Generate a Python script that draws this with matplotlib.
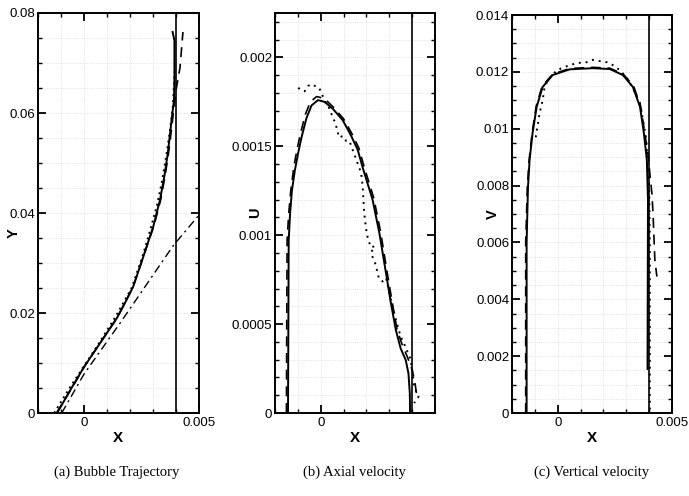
import matplotlib.pyplot as plt
from matplotlib.ticker import MultipleLocator, FixedLocator, FixedFormatter

plt.rcParams['font.family'] = ['Liberation Sans', 'DejaVu Sans']

# (a) bubble trajectory
traj_sim_x = [-0.00117, -0.00052, 0.0, 0.0007, 0.00143, 0.0017, 0.00213, 0.00258, 0.00301,
              0.0033, 0.00349, 0.00364, 0.00374, 0.00384, 0.00391, 0.00393, 0.00393, 0.00385]
traj_sim_y = [0.0, 0.0052, 0.0092, 0.014, 0.019, 0.0213, 0.0252, 0.0313, 0.0373,
              0.0426, 0.0473, 0.0519, 0.0559, 0.0599, 0.0626, 0.0672, 0.0745, 0.0762]
traj_exp_x = [-0.0013, -0.0006, 0.0, 0.0007, 0.0014, 0.00207, 0.00254, 0.00284,
              0.00316, 0.0034, 0.00359, 0.00374, 0.00386, 0.00395]
traj_exp_y = [0.0, 0.0052, 0.0094, 0.0143, 0.0195, 0.025, 0.0313, 0.036,
              0.0413, 0.0466, 0.0519, 0.0566, 0.0613, 0.069]
traj_dash_x = [-0.0012, -0.0005, 0.0, 0.0007, 0.00143, 0.00213, 0.00258, 0.00303,
               0.00333, 0.00352, 0.00367, 0.00378, 0.00388, 0.004, 0.00417, 0.0043]
traj_dash_y = [0.0, 0.0052, 0.0092, 0.014, 0.019, 0.0252, 0.0313, 0.0373,
               0.0426, 0.0473, 0.0519, 0.0559, 0.0599, 0.0646, 0.069, 0.0762]
traj_dd_x = [-0.00097, 0.0, 0.00157, 0.00388, 0.005]
traj_dd_y = [0.0, 0.0078, 0.018, 0.0335, 0.0396]

# (b) axial velocity
u_sim_x = [-0.00143, -0.0014, -0.00134, -0.00126, -0.00113, -0.00099, -0.00084, -0.00062,
           -0.0004, -0.00012, 0.00017, 0.00054, 0.00097, 0.00133, 0.00162, 0.00184,
           0.00227, 0.00257, 0.00286, 0.00307, 0.00329, 0.0035, 0.00372, 0.00384,
           0.0039, 0.00391]
u_sim = [0.0, 0.00097, 0.00112, 0.00125, 0.001365, 0.00146, 0.00155, 0.00166,
         0.00173, 0.00176, 0.00175, 0.00171, 0.001646, 0.00156, 0.00148, 0.00138,
         0.0012, 0.00101, 0.000785, 0.00062, 0.000466, 0.000363, 0.000298, 0.000223,
         0.00011, 0.0]
u_dash_x = [-0.0015, -0.00147, -0.0014, -0.00131, -0.00118, -0.00104, -0.00089, -0.00067,
            -0.00045, -0.00018, 0.00015, 0.00056, 0.001, 0.00137, 0.00167, 0.00189,
            0.00232, 0.00262, 0.00291, 0.00312, 0.00334, 0.00355, 0.00379, 0.00401,
            0.00413, 0.0042]
u_dash = [0.0, 0.00097, 0.00112, 0.00125, 0.00138, 0.00148, 0.00157, 0.00168,
          0.00175, 0.00178, 0.00177, 0.00172, 0.001655, 0.00157, 0.00149, 0.00139,
          0.00121, 0.00102, 0.00079, 0.00063, 0.00047, 0.00039, 0.000316, 0.00024,
          0.000167, 0.0001]
u_exp_x = [-0.00098, -0.00091, -0.0007, -0.00055, -0.00038, -0.00026, -0.00007, 0.0002,
           0.00035, 0.00051, 0.00061, 0.00071, 0.0008, 0.00097, 0.00112, 0.00126,
           0.0014, 0.00177, 0.00184, 0.00187, 0.0019, 0.00198, 0.00208, 0.00223,
           0.00235, 0.0022, 0.00242, 0.0025, 0.00257, 0.00271, 0.00286, 0.0031,
           0.0033, 0.0035, 0.00365, 0.00394, 0.00409, 0.00428, 0.00409]
u_exp = [0.00183, 0.00182, 0.00181, 0.00184, 0.00185, 0.00184, 0.00183, 0.00175,
         0.00172, 0.00167, 0.00164, 0.0016, 0.00155, 0.001558, 0.00153, 0.00153,
         0.00148, 0.00135, 0.00127, 0.0012, 0.00113, 0.00104, 0.00097, 0.00093,
         0.00094, 0.0009, 0.00083, 0.00078, 0.00075, 0.00074, 0.00076, 0.00062,
         0.00052, 0.00043, 0.00039, 0.0003, 0.000148, 0.000092, 0.000056]

# (c) vertical velocity
v_sim_x = [-0.00136, -0.00136, -0.0013, -0.00123, -0.0011, -0.00092, -0.00066, -0.00022,
           0.00053, 0.00154, 0.00228, 0.00285, 0.00329, 0.0036, 0.00377, 0.0039,
           0.00395, 0.00393]
v_sim = [0.0, 0.006, 0.00795, 0.0089, 0.00985, 0.01077, 0.01147, 0.01189,
         0.01209, 0.01213, 0.0121, 0.01189, 0.01147, 0.01077, 0.00985, 0.0089,
         0.0075, 0.00155]
v_dash_x = [-0.0014, -0.0014, -0.00133, -0.00125, -0.00112, -0.00094, -0.00068, -0.00022,
            0.00053, 0.00154, 0.00228, 0.00287, 0.00332, 0.00363, 0.0038, 0.00395,
            0.00403, 0.00412, 0.00417, 0.00425, 0.00434]
v_dash = [0.0, 0.006, 0.00795, 0.0089, 0.00985, 0.0108, 0.0115, 0.01192,
          0.01212, 0.01216, 0.01213, 0.01192, 0.0115, 0.0108, 0.0099, 0.0091,
          0.00843, 0.00773, 0.00703, 0.0054, 0.0048]
v_exp_x = [-0.00096, -0.0009, -0.00079, -0.00066, -0.00058, -0.00044, -0.0003, -0.00004,
           0.0004, 0.00083, 0.00127, 0.00154, 0.00184, 0.00215, 0.00241, 0.00272,
           0.00303, 0.00329, 0.0036, 0.00373, 0.00386, 0.004, 0.00403, 0.00403,
           0.00403, 0.00403]
v_exp = [0.0097, 0.01, 0.01055, 0.011, 0.01143, 0.0117, 0.01182, 0.01206,
         0.0122, 0.01231, 0.01234, 0.01242, 0.01238, 0.01234, 0.01224, 0.01206,
         0.01178, 0.01143, 0.0109, 0.01031, 0.0097, 0.008, 0.006, 0.004,
         0.002, 0.0]

wall_x = 0.004

fig = plt.figure(figsize=(6.89, 4.96), dpi=100)
ax_a = fig.add_axes([0.0552, 0.1673, 0.2337, 0.8065])
ax_b = fig.add_axes([0.3991, 0.1673, 0.2322, 0.8065])
ax_c = fig.add_axes([0.7431, 0.1673, 0.2322, 0.8024])


def style_axes(ax, ylim, yticks, ylabels, yminor, xlabels, ylabel, ylabel_xy):
    ax.set_xlim(-0.002, 0.005)
    ax.set_ylim(*ylim)
    ax.xaxis.set_major_locator(FixedLocator([0, 0.005]))
    ax.xaxis.set_major_formatter(FixedFormatter(xlabels))
    ax.xaxis.set_minor_locator(MultipleLocator(0.001))
    ax.yaxis.set_major_locator(FixedLocator(yticks))
    ax.yaxis.set_major_formatter(FixedFormatter(ylabels))
    ax.yaxis.set_minor_locator(MultipleLocator(yminor))
    ax.tick_params(which='both', direction='in', top=True, right=True, labelsize=9.5)
    ax.tick_params(which='major', length=6, width=1.3, pad=3)
    ax.tick_params(which='minor', length=3, width=1.0)
    ax.tick_params(axis='y', pad=2)
    for s in ax.spines.values():
        s.set_linewidth(1.4)
    ax.grid(which='both', color='#d8d8d8', linestyle=':', linewidth=0.6)
    ax.set_axisbelow(True)
    ax.set_xlabel('X', fontsize=11, fontweight='bold')
    ax.xaxis.set_label_coords(0.497, -0.045)
    ax.set_ylabel(ylabel, fontsize=10.5, fontweight='bold')
    ax.yaxis.set_label_coords(*ylabel_xy)


ax_a.plot(traj_sim_x, traj_sim_y, color='k', lw=1.4)
ax_a.plot(traj_exp_x, traj_exp_y, color='k', lw=1.4, linestyle=(0, (1, 2)))
ax_a.plot(traj_dash_x, traj_dash_y, color='k', lw=1.2, linestyle=(0, (6, 4)))
ax_a.plot(traj_dd_x, traj_dd_y, color='k', lw=1.0, linestyle=(0, (6, 3, 1.5, 3)))
ax_a.axvline(wall_x, color='k', lw=1.2)
style_axes(ax_a, (0, 0.08), [0, 0.02, 0.04, 0.06, 0.08],
           ['0', '0.02', '0.04', '0.06', '0.08'], 0.005, ['0', '0.005'], 'Y',
           (-0.105, 0.45))

ax_b.plot(u_sim_x, u_sim, color='k', lw=1.4)
ax_b.plot(u_dash_x, u_dash, color='k', lw=1.2, linestyle=(0, (6, 4)))
ax_b.plot(u_exp_x, u_exp, color='k', lw=1.4, linestyle=(0, (1, 2.5)))
ax_b.axvline(wall_x, color='k', lw=1.2)
style_axes(ax_b, (0, 0.00225), [0, 0.0005, 0.001, 0.0015, 0.002],
           ['0', '0.0005', '0.001', '0.0015', '0.002'], 0.0001, ['0', ''], 'U',
           (-0.078, 0.5))

ax_c.plot(v_sim_x, v_sim, color='k', lw=1.4)
ax_c.plot(v_dash_x, v_dash, color='k', lw=1.2, linestyle=(0, (6, 4)))
ax_c.plot(v_exp_x, v_exp, color='k', lw=1.4, linestyle=(0, (1, 2.5)))
ax_c.axvline(wall_x, color='k', lw=1.2)
style_axes(ax_c, (0, 0.014), [0, 0.002, 0.004, 0.006, 0.008, 0.01, 0.012, 0.014],
           ['0', '0.002', '0.004', '0.006', '0.008', '0.01', '0.012', '0.014'],
           0.0005, ['0', '0.005'], 'V', (-0.078, 0.5))

captions = ['(a) Bubble Trajectory', '(b) Axial velocity', '(c) Vertical velocity']
for cx, cap in zip([0.17, 0.515, 0.859], captions):
    fig.text(cx, 0.048, cap, ha='center', va='center', fontsize=10.5,
             family=['Liberation Serif', 'DejaVu Serif'])

fig.savefig('out.png', dpi=100)
